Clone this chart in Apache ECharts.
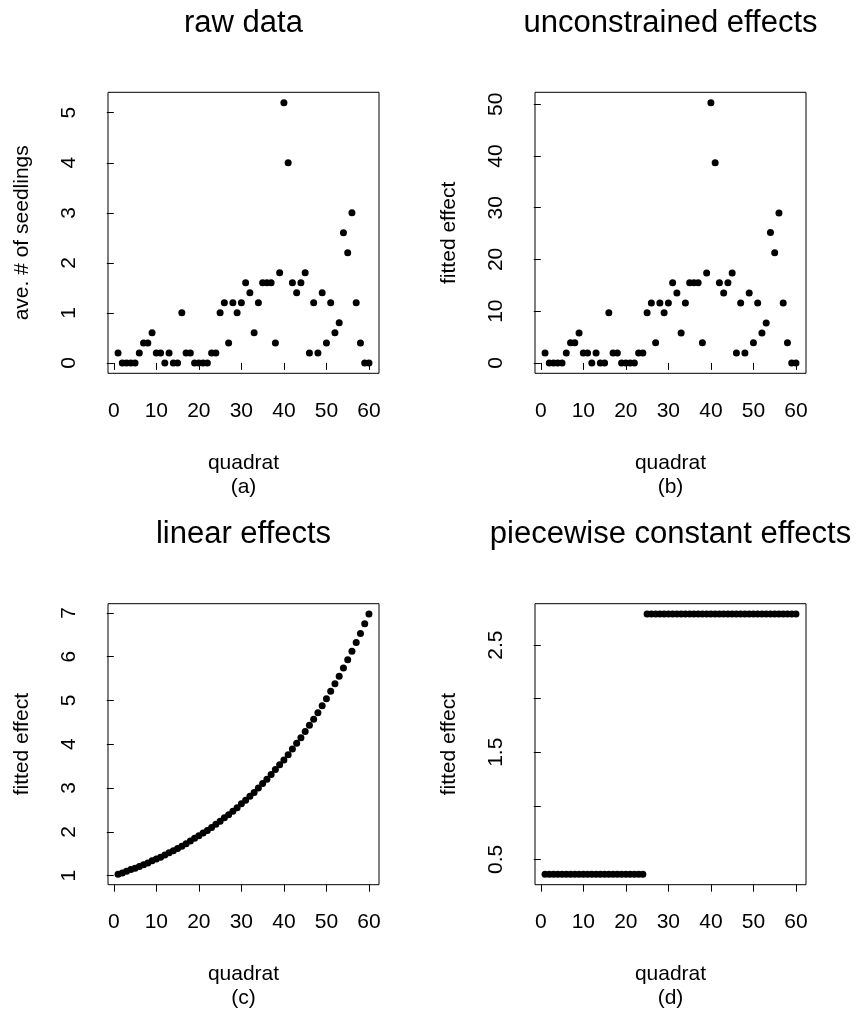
<!DOCTYPE html>
<html>
<head>
<meta charset="utf-8">
<script src="https://cdn.jsdelivr.net/npm/echarts@6/dist/echarts.min.js"></script>
<style>
  html, body { margin: 0; padding: 0; background: #fff; }
  #chart { width: 857px; height: 1015px; }
</style>
</head>
<body>
<div id="chart"></div>
<script>
// quadrat index along the transect
const quadrat = Array.from({ length: 60 }, (_, i) => i + 1);

// (a) average number of seedlings per quadrat
const rawSeedlings = [
  0.2, 0, 0, 0, 0, 0.2, 0.4, 0.4, 0.6, 0.2,
  0.2, 0, 0.2, 0, 0, 1.0, 0.2, 0.2, 0, 0,
  0, 0, 0.2, 0.2, 1.0, 1.2, 0.4, 1.2, 1.0, 1.2,
  1.6, 1.4, 0.6, 1.2, 1.6, 1.6, 1.6, 0.4, 1.8, 5.2,
  4.0, 1.6, 1.4, 1.6, 1.8, 0.2, 1.2, 0.2, 1.4, 0.4,
  1.2, 0.6, 0.8, 2.6, 2.2, 3.0, 1.2, 0.4, 0, 0
];

// (b) fitted effects, no constraint
const unconstrainedEffect = [
  1.9, 0, 0, 0, 0, 1.9, 3.9, 3.9, 5.8, 1.9,
  1.9, 0, 1.9, 0, 0, 9.7, 1.9, 1.9, 0, 0,
  0, 0, 1.9, 1.9, 9.7, 11.6, 3.9, 11.6, 9.7, 11.6,
  15.5, 13.5, 5.8, 11.6, 15.5, 15.5, 15.5, 3.9, 17.4, 50.3,
  38.7, 15.5, 13.5, 15.5, 17.4, 1.9, 11.6, 1.9, 13.5, 3.9,
  11.6, 5.8, 7.7, 25.2, 21.3, 29.0, 11.6, 3.9, 0, 0
];

// (c) fitted effects, linear on the log scale
const linearEffect = [
  1.03, 1.06, 1.10, 1.14, 1.17, 1.21, 1.25, 1.29, 1.34, 1.38,
  1.42, 1.47, 1.52, 1.57, 1.62, 1.67, 1.73, 1.79, 1.85, 1.91,
  1.97, 2.03, 2.10, 2.17, 2.24, 2.32, 2.39, 2.47, 2.55, 2.64,
  2.72, 2.81, 2.90, 3.00, 3.10, 3.20, 3.31, 3.42, 3.53, 3.64,
  3.76, 3.89, 4.02, 4.15, 4.29, 4.43, 4.57, 4.72, 4.88, 5.04,
  5.21, 5.38, 5.55, 5.74, 5.93, 6.12, 6.32, 6.53, 6.75, 6.97
];

// (d) fitted effects, piecewise constant (one change point)
const piecewiseEffect = [
  0.36, 0.36, 0.36, 0.36, 0.36, 0.36, 0.36, 0.36, 0.36, 0.36,
  0.36, 0.36, 0.36, 0.36, 0.36, 0.36, 0.36, 0.36, 0.36, 0.36,
  0.36, 0.36, 0.36, 0.36, 2.79, 2.79, 2.79, 2.79, 2.79, 2.79,
  2.79, 2.79, 2.79, 2.79, 2.79, 2.79, 2.79, 2.79, 2.79, 2.79,
  2.79, 2.79, 2.79, 2.79, 2.79, 2.79, 2.79, 2.79, 2.79, 2.79,
  2.79, 2.79, 2.79, 2.79, 2.79, 2.79, 2.79, 2.79, 2.79, 2.79
];

// tick positions and printed labels
const xTicks = [0, 10, 20, 30, 40, 50, 60];
const yTicksA = [0, 1, 2, 3, 4, 5];
const yTicksB = [0, 10, 20, 30, 40, 50];
const yTicksC = [1, 2, 3, 4, 5, 6, 7];
const yTicksD = [0.5, 1, 1.5, 2, 2.5];
const yLabelsD = [0.5, 1.5, 2.5];

const titles = ['raw data', 'unconstrained effects', 'linear effects', 'piecewise constant effects'];
const yNames = ['ave. # of seedlings', 'fitted effect', 'fitted effect', 'fitted effect'];
const xName = 'quadrat';
const panelTags = ['(a)', '(b)', '(c)', '(d)'];

const FONT = '"Liberation Sans", Arial, Helvetica, sans-serif';

// axis range padded by 4% on both ends, like base graphics
function paddedRange(values) {
  const lo = Math.min(...values), hi = Math.max(...values);
  const pad = (hi - lo) * 0.04;
  return [lo - pad, hi + pad];
}

const panels = [
  { y: rawSeedlings, ticks: yTicksA, labels: yTicksA },
  { y: unconstrainedEffect, ticks: yTicksB, labels: yTicksB },
  { y: linearEffect, ticks: yTicksC, labels: yTicksC },
  { y: piecewiseEffect, ticks: yTicksD, labels: yLabelsD }
];

// plot box layout (pixels)
const boxLeft = [108, 535];
const boxTop = [92.3, 603.7];
const boxW = 271, boxH = 281;
const titleTop = [8, 519];

const xRange = paddedRange(quadrat);

const option = {
  backgroundColor: '#fff',
  animation: false,
  title: [],
  grid: [],
  xAxis: [],
  yAxis: [],
  series: []
};

panels.forEach((p, i) => {
  const col = i % 2, row = Math.floor(i / 2);
  const yRange = paddedRange(p.y);

  option.title.push({
    text: titles[i],
    left: boxLeft[col] + boxW / 2,
    top: titleTop[row],
    textAlign: 'center',
    padding: 0,
    textStyle: { fontFamily: FONT, fontSize: 31, fontWeight: 'normal', color: '#000' }
  });

  option.grid.push({
    left: boxLeft[col], top: boxTop[row], width: boxW, height: boxH,
    show: true, borderColor: '#000', borderWidth: 1, backgroundColor: 'transparent',
    containLabel: false
  });

  option.xAxis.push({
    type: 'value', gridIndex: i,
    min: xRange[0], max: xRange[1],
    name: xName + '\n' + panelTags[i],
    nameLocation: 'middle', nameGap: 78,
    nameTextStyle: { fontFamily: FONT, fontSize: 21, color: '#000', lineHeight: 24 },
    axisLine: { show: false },
    splitLine: { show: false },
    axisTick: { show: true, inside: false, length: 7, customValues: xTicks,
      lineStyle: { color: '#000', width: 1 } },
    axisLabel: { show: true, customValues: xTicks, margin: 27,
      fontFamily: FONT, fontSize: 21, color: '#000' }
  });

  option.yAxis.push({
    type: 'value', gridIndex: i,
    min: yRange[0], max: yRange[1],
    name: yNames[i],
    nameLocation: 'middle', nameGap: 75, nameRotate: 90,
    nameTextStyle: { fontFamily: FONT, fontSize: 21, color: '#000' },
    axisLine: { show: false },
    splitLine: { show: false },
    axisTick: { show: true, inside: false, length: 7, customValues: p.ticks,
      lineStyle: { color: '#000', width: 1 } },
    axisLabel: { show: true, customValues: p.labels, rotate: 90, margin: 28,
      fontFamily: FONT, fontSize: 21, color: '#000' }
  });

  option.series.push({
    type: 'scatter', xAxisIndex: i, yAxisIndex: i,
    symbol: 'circle', symbolSize: 7,
    itemStyle: { color: '#000', opacity: 1 },
    data: quadrat.map((q, k) => [q, p.y[k]])
  });
});

const chart = echarts.init(document.getElementById('chart'), null, { renderer: 'canvas' });
chart.setOption(option);
</script>
</body>
</html>
